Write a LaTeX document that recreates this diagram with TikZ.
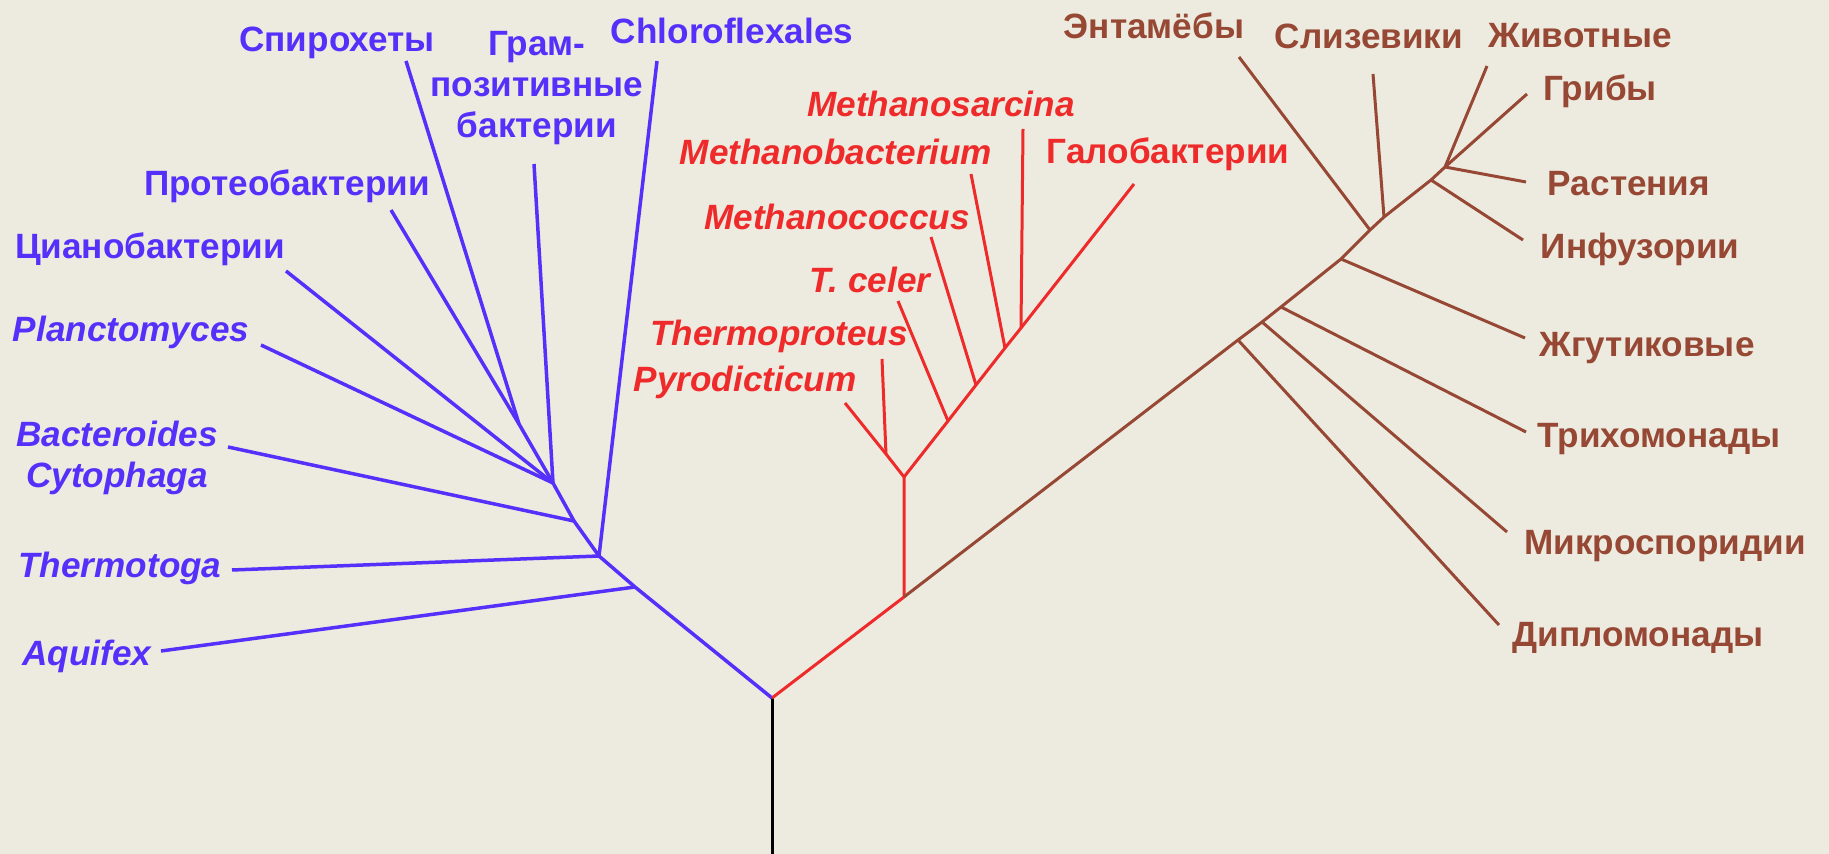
\documentclass[tikz,border=0pt]{standalone}
\usepackage{fontspec}
\setmainfont{Liberation Sans}
\definecolor{bg}{RGB}{237,235,224}
\definecolor{cblue}{RGB}{84,48,250}
\definecolor{cred}{RGB}{238,42,42}
\definecolor{cbrown}{RGB}{150,72,52}
\begin{document}
\begin{tikzpicture}[x=0.02cm,y=-0.02cm,
  lab/.style={inner sep=0pt, anchor=base, font=\fontsize{20}{23.3}\selectfont\bfseries},
  itl/.style={lab, font=\fontsize{20}{23.3}\selectfont\bfseries\itshape},
  tb/.style={text=cblue}, tr/.style={text=cred}, tn/.style={text=cbrown},
  bl/.style={draw=cblue, line width=0.07cm, line join=round},
  rd/.style={draw=cred, line width=0.06cm, line join=round},
  br/.style={draw=cbrown, line width=0.06cm, line join=round},
  blk/.style={draw=black, line width=0.06cm}]
\fill[bg] (0,0) rectangle (1829,854);
\useasboundingbox (0,0) rectangle (1829,854);
% ---------- coordinates ----------
\coordinate (R) at (772,698);
\coordinate (T) at (772,854);
% blue
\coordinate (B1) at (635,587);
\coordinate (B2) at (599,556);
\coordinate (B3) at (574,521);
\coordinate (B4) at (553,483);
\coordinate (S1) at (519,424);
\coordinate (eAquifex) at (161,651);
\coordinate (eThermotoga) at (232,570);
\coordinate (eChloro) at (657,61);
\coordinate (eBact) at (228,447);
\coordinate (eGram) at (534,164);
\coordinate (ePlanct) at (261,345);
\coordinate (eCyano) at (286,271);
\coordinate (eSpiro) at (406,61);
\coordinate (eProteo) at (391,210);
% red
\coordinate (A1) at (904,597);
\coordinate (A2) at (904,477);
\coordinate (TJ) at (886,454);
\coordinate (ePyro) at (845,403);
\coordinate (eThermoproteus) at (882,359);
\coordinate (Jtc) at (948,421);
\coordinate (Jmc) at (976,385);
\coordinate (Jmb) at (1005,348);
\coordinate (Jms) at (1021,328);
\coordinate (eHalo) at (1134,184);
\coordinate (eTceler) at (898,301);
\coordinate (eMcoccus) at (931,237);
\coordinate (eMbact) at (971,174);
\coordinate (eMsarc) at (1023,129);
% brown
\coordinate (D) at (1238,340);
\coordinate (M) at (1262,322);
\coordinate (Tr) at (1281,307);
\coordinate (F) at (1341,259);
\coordinate (E) at (1370,230);
\coordinate (Sl) at (1384,217);
\coordinate (C) at (1431,180);
\coordinate (K) at (1445,167);
\coordinate (eAnimals) at (1487,66);
\coordinate (eFungi) at (1527,94);
\coordinate (ePlants) at (1526,182);
\coordinate (eCiliates) at (1523,240);
\coordinate (eSlime) at (1373,74);
\coordinate (eEnt) at (1239,57);
\coordinate (eFlag) at (1525,338);
\coordinate (eTrich) at (1526,432);
\coordinate (eMicro) at (1507,532);
\coordinate (eDiplo) at (1499,625);
% ---------- branches ----------
\draw[blk] (T) -- (R);
\draw[bl] (R) -- (B1) -- (B2) -- (B3) -- (B4) -- (S1) -- (eSpiro);
\draw[bl] (S1) -- (eProteo);
\draw[bl] (B4) -- (eCyano);
\draw[bl] (B4) -- (ePlanct);
\draw[bl] (B4) -- (eGram);
\draw[bl] (B3) -- (eBact);
\draw[bl] (B2) -- (eThermotoga);
\draw[bl] (B2) -- (eChloro);
\draw[bl] (B1) -- (eAquifex);
\draw[rd] (R) -- (A1) -- (A2) -- (TJ) -- (ePyro);
\draw[rd] (TJ) -- (eThermoproteus);
\draw[rd] (A2) -- (Jtc) -- (Jmc) -- (Jmb) -- (Jms) -- (eHalo);
\draw[rd] (Jtc) -- (eTceler);
\draw[rd] (Jmc) -- (eMcoccus);
\draw[rd] (Jmb) -- (eMbact);
\draw[rd] (Jms) -- (eMsarc);
\draw[br] (A1) -- (D) -- (M) -- (Tr) -- (F) -- (E) -- (Sl) -- (C) -- (K) -- (eAnimals);
\draw[br] (K) -- (eFungi);
\draw[br] (K) -- (ePlants);
\draw[br] (C) -- (eCiliates);
\draw[br] (Sl) -- (eSlime);
\draw[br] (E) -- (eEnt);
\draw[br] (F) -- (eFlag);
\draw[br] (Tr) -- (eTrich);
\draw[br] (M) -- (eMicro);
\draw[br] (D) -- (eDiplo);
% ---------- labels: bacteria ----------
\node[lab,tb] (lSpiro) at (337,52) {Спирохеты};
\node[lab,tb,anchor=north,align=center] (lGram) at (537,31) {Грам-\\позитивные\\бактерии};
\node[lab,tb] (lChloro) at (732,44) {Chloroflexales};
\node[lab,tb] (lProteo) at (287,196) {Протеобактерии};
\node[lab,tb] (lCyano) at (150,259) {Цианобактерии};
\node[itl,tb] (lPlanct) at (131,342) {Planctomyces};
\node[itl,tb,anchor=north,align=center] (lBact) at (117,421) {Bacteroides\\Cytophaga};
\node[itl,tb] (lThermotoga) at (120,578) {Thermotoga};
\node[itl,tb] (lAquifex) at (87,665) {Aquifex};
% ---------- labels: archaea ----------
\node[itl,tr] (lMsarc) at (941,117) {Methanosarcina};
\node[itl,tr] (lMbact) at (836,165) {Methanobacterium};
\node[lab,tr] (lHalo) at (1168,164) {Галобактерии};
\node[itl,tr] (lMcoccus) at (837,230) {Methanococcus};
\node[itl,tr] (lTceler) at (870,293) {T. celer};
\node[itl,tr] (lThermoproteus) at (779,346) {Thermoproteus};
\node[itl,tr] (lPyro) at (745,392) {Pyrodicticum};
% ---------- labels: eukaryotes ----------
\node[lab,tn] (lEnt) at (1154,39) {Энтамёбы};
\node[lab,tn] (lSlime) at (1369,49) {Слизевики};
\node[lab,tn] (lAnimals) at (1580,48) {Животные};
\node[lab,tn] (lFungi) at (1600,101) {Грибы};
\node[lab,tn] (lPlants) at (1629,196) {Растения};
\node[lab,tn] (lCiliates) at (1640,259) {Инфузории};
\node[lab,tn] (lFlag) at (1647,357) {Жгутиковые};
\node[lab,tn] (lTrich) at (1659,448) {Трихомонады};
\node[lab,tn] (lMicro) at (1665,555) {Микроспоридии};
\node[lab,tn] (lDiplo) at (1638,646) {Дипломонады};
\end{tikzpicture}
\end{document}
